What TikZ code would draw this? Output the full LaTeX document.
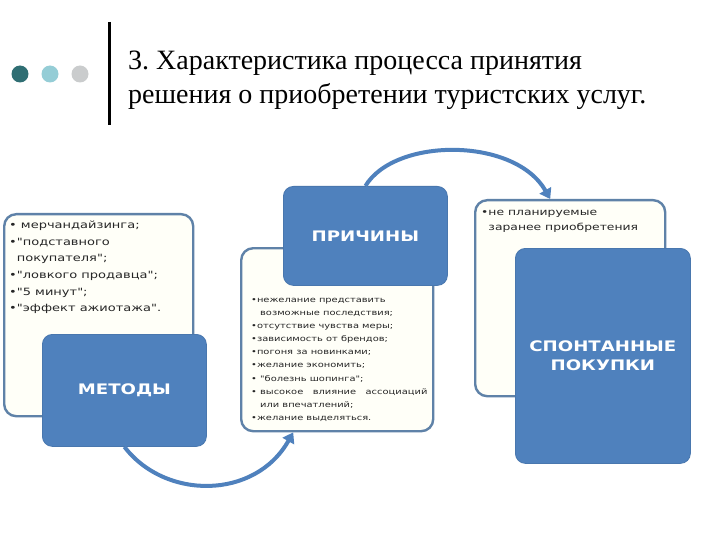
\documentclass[tikz,border=0pt]{standalone}
\usepackage{fontspec}
\setmainfont{Liberation Serif}
\newfontfamily\boxfont[FakeStretch=1.3]{DejaVu Sans}
\newfontfamily\labelfont[FakeStretch=1.25]{DejaVu Sans}
\usetikzlibrary{arrows.meta,positioning}
\definecolor{tourBlue}{HTML}{4F81BD}
\definecolor{tourEdge}{HTML}{5F82A8}
\definecolor{tourCream}{HTML}{FFFFF8}
\definecolor{tourTeal}{HTML}{2F6E73}
\definecolor{tourAqua}{HTML}{95CDD6}
\definecolor{tourGray}{HTML}{CACCCD}
\definecolor{tourInk}{HTML}{262626}
\frenchspacing

\begin{document}
\begin{tikzpicture}[x=1pt,y=-1pt,
  listbox/.style={draw=tourEdge,line width=2.4pt,fill=tourCream,rounded corners=12pt,
    anchor=north west,inner sep=0pt},
  bluebox/.style={draw=tourBlue!92!black,line width=.8pt,fill=tourBlue,rounded corners=10pt,
    anchor=north west,inner sep=0pt,text=white,align=center,
    font={\labelfont\bfseries\fontsize{14.5}{19}\selectfont}},
  listtxt/.style={inner sep=0pt,align=left,text=tourInk},
  flowarrow/.style={draw=tourBlue,line width=4pt,-{Triangle[length=10pt,width=13pt]}}]
  \useasboundingbox (0,0) rectangle (720,540);
  \fill[white] (0,0) rectangle (720,540);

  % title
  \fill[tourTeal] (20,74) circle (8.5pt);
  \fill[tourAqua] (50,74) circle (8.5pt);
  \fill[tourGray] (80,74) circle (8.5pt);
  \draw[line width=3pt] (109,22) -- (109,125);
  \node[anchor=base west,inner sep=0pt,align=left,font={\fontsize{28}{34}\selectfont}] (title) at (128,104)
    {3. Характеристика процесса принятия\\решения о приобретении туристских услуг.};

  % methods
  \node[listbox,minimum width=189pt,minimum height=202pt] (metlist) at (3,213) {};
  \node[listtxt,below right=8pt and 6pt of metlist.north west,
    font={\boxfont\fontsize{10}{16.6}\selectfont}] (mettxt)
    {• мерчандайзинга;\\•"подставного\\\phantom{•}покупателя";\\•"ловкого продавца";\\•"5 минут";\\•"эффект ажиотажа".};
  \node[bluebox,minimum width=164pt,minimum height=112pt] (metody) at (42,334) {МЕТОДЫ};

  % reasons
  \node[listbox,minimum width=192pt,minimum height=183pt] (prichlist) at (240,247) {};
  \node[listtxt,below right=51pt and 11pt of prichlist.north west,
    font={\boxfont\fontsize{7.6}{13.1}\selectfont}] (prichtxt)
    {•нежелание представить\\\phantom{•} возможные последствия;\\•отсутствие чувства меры;\\•зависимость от брендов;\\
     •погоня за новинками;\\•желание экономить;\\• "болезнь шопинга";\\• высокое~~ влияние~~ ассоциаций\\
     \phantom{•} или впечатлений;\\•желание выделяться.};
  \node[bluebox,minimum width=164pt,minimum height=99pt] (prich) at (283,186) {ПРИЧИНЫ};

  % spontaneous purchases
  \node[listbox,minimum width=190pt,minimum height=196pt] (spontlist) at (474,199) {};
  \node[listtxt,below right=11pt and 7pt of spontlist.north west,
    font={\boxfont\fontsize{9.5}{15}\selectfont}] (sponttxt)
    {•не планируемые\\\phantom{•}заранее приобретения};
  \node[bluebox,minimum width=175pt,minimum height=215pt] (spont) at (515,248) {СПОНТАННЫЕ\\ПОКУПКИ};

  \draw[flowarrow] (prich.north) .. controls (395,137) and (515,137) .. ([xshift=-20pt]spontlist.north);
  \draw[flowarrow] (metody.south) .. controls (165,500) and (255,500) .. ([xshift=-44pt]prichlist.south);
\end{tikzpicture}
\end{document}
